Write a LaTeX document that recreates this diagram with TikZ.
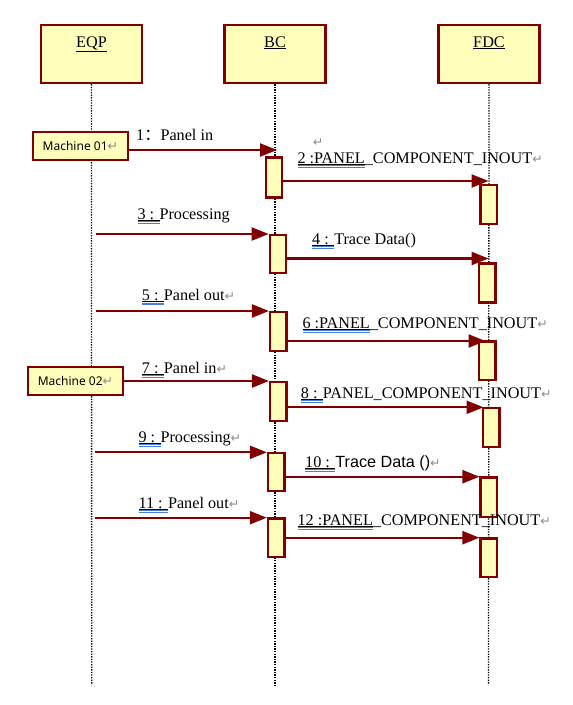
\documentclass[tikz,border=0pt]{standalone}
\usepackage{fontspec}
\setmainfont{Liberation Serif}
\newfontfamily\arialf{Liberation Sans}
\newfontfamily\symf{DejaVu Sans}
\newfontfamily\machf{Noto Sans}
\newfontfamily\cjk{Noto Sans CJK SC}
\usetikzlibrary{arrows.meta,calc}
\definecolor{maroon}{HTML}{800000}
\definecolor{lyellow}{HTML}{FFFFBB}
\definecolor{ublue}{HTML}{4A7FD8}
\definecolor{retgray}{HTML}{8C8C8C}
\newsavebox\bubox
\newcommand\bu[1]{\sbox\bubox{#1}\rlap{\rule[-1.2pt]{\wd\bubox}{0.6pt}}\rlap{\color{ublue}\rule[-2.8pt]{\wd\bubox}{0.9pt}}\rlap{\color{ublue}\rule[-4.5pt]{\wd\bubox}{0.9pt}}\usebox\bubox}
\newcommand\ret{{\color{retgray}\symf\fontsize{12.5}{12.5}\selectfont ↵}}
\begin{document}
\begin{tikzpicture}[x=1pt,y=-1pt,
  font=\fontsize{16.2}{18}\selectfont,
  hdr/.style={draw=maroon, fill=lyellow, line width=2.4pt, minimum width=101pt, minimum height=58pt, inner sep=0pt},
  htxt/.style={inner sep=0pt, anchor=base},
  act/.style={draw=maroon, fill=lyellow, line width=2.2pt, inner sep=0pt, minimum width=16.5pt},
  mach/.style={draw=maroon, fill=lyellow, line width=2.4pt, inner sep=0pt, minimum width=95pt, minimum height=28pt, font=\machf\fontsize{12}{13}\selectfont},
  msg/.style={draw=maroon, line width=2.2pt, -{Triangle[length=17pt,width=13pt]}},
  life/.style={line width=1.3pt, dash pattern=on 1.3pt off 1.3pt},
  lbl/.style={anchor=base west, inner sep=0pt}]
\useasboundingbox (0,0) rectangle (573,705);

% headers
\node[hdr] (eqp) at (91.5,54) {};
\node[hdr] (bc) at (275,54) {};
\node[hdr] (fdc) at (489,54) {};
\node[htxt] (eqpt) at (91.5,47) {\underline{EQP}};
\node[htxt] (bct) at (275,47) {\underline{BC}};
\node[htxt] (fdct) at (489,47) {\underline{FDC}};

% lifelines
\coordinate (Le) at (91.7,685);
\coordinate (Lb) at (275,685);
\coordinate (Lf) at (488.5,685);
\draw[life] (eqp.south) -- (Le);
\draw[life] (bc.south) -- (Lb);
\draw[life] (fdc.south) -- (Lf);

% machines
\node[mach] (m1) at (80.4,146) {Machine 01\ret};
\node[mach] (m2) at (75.5,381) {Machine 02\ret};

% activations BC
\node[act, minimum height=40pt] (b1) at (274,177.5) {};
\node[act, minimum height=38.5pt] (b2) at (278,254) {};
\node[act, minimum height=39pt] (b3) at (278.3,331.3) {};
\node[act, minimum height=39pt] (b4) at (278.3,401.3) {};
\node[act, minimum height=38pt] (b5) at (276.2,472) {};
\node[act, minimum height=38.5pt] (b6) at (276.2,537.7) {};
% activations FDC
\node[act, minimum height=39pt] (f1) at (488.8,204.7) {};
\node[act, minimum height=39pt] (f2) at (487.2,283) {};
\node[act, minimum height=38.5pt] (f3) at (487.2,360.7) {};
\node[act, minimum height=39pt] (f4) at (491.2,427.5) {};
\node[act, minimum height=39.5pt] (f5) at (488.8,497.2) {};
\node[act, minimum height=38.5pt] (f6) at (488.8,557.7) {};

% messages
\draw[msg] (m1.east |- 0,150) -- ([xshift=2pt]Lb |- 0,150);
\draw[msg] (b1.east |- 0,181) -- (Lf |- 0,181);
\draw[msg] ([xshift=4pt]Le |- 0,234) -- (b2.west |- 0,234);
\draw[msg] (b2.east |- 0,258.5) -- (Lf |- 0,258.5);
\draw[msg] ([xshift=4pt]Le |- 0,311) -- (b3.west |- 0,311);
\draw[msg] (b3.east |- 0,341) -- ([xshift=-3pt]Lf |- 0,341);
\draw[msg] (m2.east |- 0,381) -- (b4.west |- 0,381);
\draw[msg] (b4.east |- 0,407.3) -- ([xshift=-5pt]Lf |- 0,407.3);
\draw[msg] ([xshift=3pt]Le |- 0,452.3) -- (b5.west |- 0,452.3);
\draw[msg] (b5.east |- 0,476.7) -- (f5.west |- 0,476.7);
\draw[msg] ([xshift=3pt]Le |- 0,517.7) -- (b6.west |- 0,517.7);
\draw[msg] (b6.east |- 0,537.7) -- (f6.west |- 0,537.7);

% labels
\node[lbl] (l1) at (136,140) {1{\cjk ：}Panel in};
\node[inner sep=0pt] (r2) at (318,143) {\ret};
\node[lbl] (l2) at (297.3,163.3) {\bu{2 :PANEL}\_COMPONENT\_INOUT\ret};
\node[lbl] (l3) at (137.3,219) {\bu{3 : }Processing};
\node[lbl] (l4) at (312,244) {\bu{4 : }Trace Data()};
\node[lbl] (l5) at (141.7,300.7) {\bu{5 : }Panel out\ret};
\node[lbl] (l6) at (302.3,328.3) {\bu{6 :PANEL}\_COMPONENT\_INOUT\ret};
\node[lbl] (l7) at (141.7,373.3) {\bu{7 : }Panel in\ret};
\node[lbl] (l8) at (300.7,398.3) {\bu{8 : }PANEL\_COMPONENT\_INOUT\ret};
\node[lbl] (l9) at (138.3,442.3) {\bu{9 : }Processing\ret};
\node[lbl] (l10) at (305,467.3) {\bu{10 : }{\arialf Trace Data ()}\ret};
\node[lbl] (l11) at (138.3,508.3) {\bu{11 : }Panel out\ret};
\node[lbl] (l12) at (297.3,525) {\bu{12 :PANEL}\_COMPONENT\_INOUT\ret};
\end{tikzpicture}
\end{document}
